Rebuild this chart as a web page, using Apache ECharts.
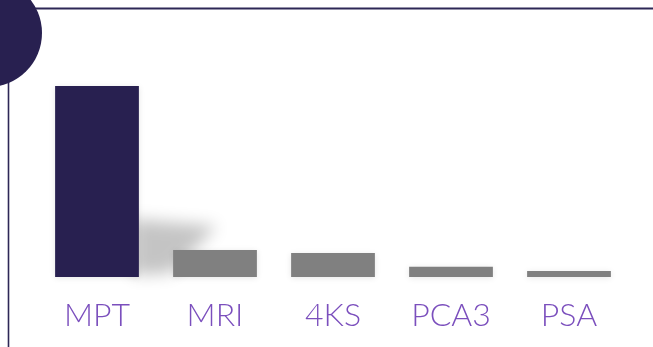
<!DOCTYPE html>
<html>
<head>
<meta charset="utf-8">
<style>
  html, body { margin: 0; padding: 0; background: #ffffff; }
  #chart { width: 653px; height: 347px; }
</style>
<script src="https://cdn.jsdelivr.net/npm/echarts@6/dist/echarts.min.js"></script>
</head>
<body>
<div id="chart"></div>
<script>
// Test categories and their relative values
const categories = ['MPT', 'MRI', '4KS', 'PCA3', 'PSA'];
const values = [100, 14.1, 12.6, 5.4, 3.1];
const highlighted = 'MPT';

const NAVY = '#282050';
const GREY = '#808080';
const LABEL = '#7b4fbd';
const BAR_RATIO = 0.71;

const chart = echarts.init(document.getElementById('chart'), null, { renderer: 'canvas' });

// Soft cast shadow behind the highlighted bar, placed from the bar's own coordinates.
// The shape itself is drawn far off to the left so that only its blurred shadow shows.
function renderCastShadow(params, api) {
  const base = api.coord([api.value(0), 0]);
  const band = api.size([1, 0])[0];
  const half = band * BAR_RATIO / 2;
  const xr = base[0] + half;
  const yb = base[1];
  const far = 2000;
  return {
    type: 'polygon',
    shape: {
      points: [
        [xr - 6 - far, yb - 58],
        [xr + 78 - far, yb - 51],
        [xr + 32 - far, yb - 4],
        [xr - 6 - far, yb - 2]
      ]
    },
    style: {
      fill: '#000',
      shadowColor: 'rgba(0,0,0,0.23)',
      shadowBlur: 16,
      shadowOffsetX: far,
      shadowOffsetY: 0
    }
  };
}

const option = {
  backgroundColor: '#ffffff',
  animation: false,
  grid: { left: 38, right: 25, top: 86, bottom: 70 },
  xAxis: {
    type: 'category',
    data: categories,
    axisLine: { show: false },
    axisTick: { show: false },
    axisLabel: {
      color: LABEL,
      fontFamily: 'Lato, sans-serif',
      fontWeight: 300,
      fontSize: 32,
      margin: 23
    }
  },
  yAxis: {
    type: 'value',
    min: 0,
    max: values[0],
    show: false,
    splitLine: { show: false }
  },
  graphic: [
    { type: 'line', shape: { x1: 20, y1: 8.5, x2: 653, y2: 8.5 }, style: { stroke: '#2d2756', lineWidth: 2 }, z: 10 },
    { type: 'line', shape: { x1: 8.5, y1: 60, x2: 8.5, y2: 347 }, style: { stroke: '#2d2756', lineWidth: 1.6 }, z: 10 },
    { type: 'circle', shape: { cx: -12, cy: 33, r: 54 }, style: { fill: NAVY }, z: 11 }
  ],
  series: [
    {
      type: 'custom',
      data: categories.map((c, i) => c === highlighted ? [i, values[i]] : null).filter(Boolean),
      renderItem: renderCastShadow,
      clip: false,
      silent: true,
      z: 1
    },
    {
      type: 'bar',
      barWidth: (BAR_RATIO * 100) + '%',
      z: 2,
      data: values.map((v, i) => ({
        value: v,
        itemStyle: {
          color: categories[i] === highlighted ? NAVY : GREY,
          shadowColor: 'rgba(0,0,0,0.10)',
          shadowBlur: 6,
          shadowOffsetY: 1
        }
      }))
    }
  ]
};

chart.setOption(option);
</script>
</body>
</html>
